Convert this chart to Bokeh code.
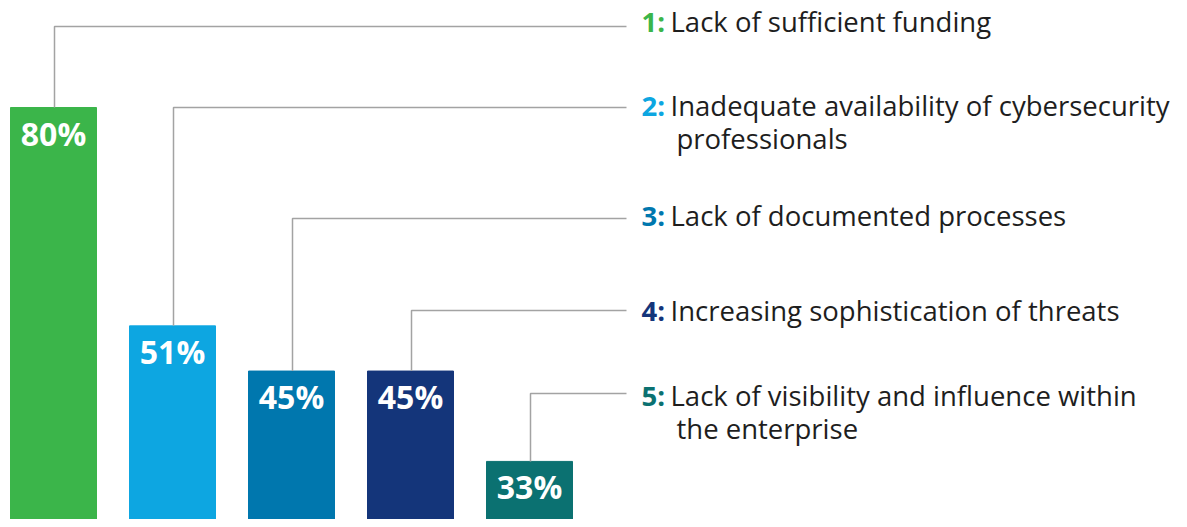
from bokeh.plotting import figure
from bokeh.models import Range1d, ColumnDataSource
from bokeh.core.properties import value
from bokeh.embed import file_html
from bokeh.resources import INLINE

# ---- data ----
ranks = ["1:", "2:", "3:", "4:", "5:"]
challenge_line1 = [
    "Lack of sufficient funding",
    "Inadequate availability of cybersecurity",
    "Lack of documented processes",
    "Increasing sophistication of threats",
    "Lack of visibility and influence within",
]
challenge_line2 = ["", "professionals", "", "", "the enterprise"]
percent = [80, 51, 45, 45, 33]
bar_labels = ["80%", "51%", "45%", "45%", "33%"]
colors = ["#3BB54A", "#0DA6E1", "#0077AE", "#14357A", "#0B7171"]

# ---- layout (figure pixels) ----
W, H = 1179, 519
PX_X = 119.0          # pixels per bar slot
X0 = 53.0             # pixel centre of first bar
PX_Y = 7.53           # pixels per percent
TOP_PX = 107.0        # pixel of the first bar's top
x_start = -X0 / PX_X
x_end = x_start + W / PX_X
y_end = percent[0] + TOP_PX / PX_Y
y_start = y_end - H / PX_Y


def xd(px):
    return x_start + px / PX_X


def yd(py):
    return y_end - py / PX_Y


TEXT_SHIFT = 12.5
leader_px = [26, 107, 218, 310, 393]
baseline_px = [33, 117, 227, 322, 407]
leader_end_px = 626
num_px = 641
text_px = 670
cont_px = 676
cont_dy = 33

p = figure(width=W, height=H, output_backend="svg", toolbar_location=None,
           x_range=Range1d(x_start, x_end), y_range=Range1d(y_start, y_end),
           min_border=0, min_border_left=0, min_border_right=0,
           min_border_top=0, min_border_bottom=0)
p.axis.visible = False
p.grid.visible = False
p.outline_line_color = None
p.background_fill_color = "white"
p.border_fill_color = "white"

idx = list(range(len(percent)))
src = ColumnDataSource(dict(x=idx, top=percent, color=colors, label=bar_labels,
                            ly=[v - (38 - TEXT_SHIFT) / PX_Y for v in percent]))
p.vbar(x="x", top="top", bottom=0, width=86 / PX_X, color="color", source=src)
p.text(x="x", y="ly", text="label", source=src, text_color="white",
       text_font=value("Open Sans"), text_font_style="bold", text_font_size="32px",
       text_align="center", text_baseline="alphabetic")

# leader lines
xs, ys = [], []
for i, v in enumerate(percent):
    xl = i + 1.0 / PX_X
    yl = yd(leader_px[i])
    xs.append([xl, xl, xd(leader_end_px)])
    ys.append([v, yl, yl])
p.multi_line(xs=xs, ys=ys, line_color="#A3A3A3", line_width=1.5)

# labels
lab = ColumnDataSource(dict(
    xn=[xd(num_px)] * 5, xt=[xd(text_px)] * 5, xc=[xd(cont_px)] * 5,
    y=[yd(v - TEXT_SHIFT) for v in baseline_px],
    y2=[yd(v - TEXT_SHIFT + cont_dy) for v in baseline_px],
    num=ranks, t1=challenge_line1, t2=challenge_line2, color=colors))
p.text(x="xn", y="y", text="num", source=lab, text_color="color",
       text_font=value("Open Sans"), text_font_style="bold", text_font_size="27.5px",
       text_baseline="alphabetic")
p.text(x="xt", y="y", text="t1", source=lab, text_color="#1E1E1E",
       text_font=value("Open Sans"), text_font_size="27.5px", text_baseline="alphabetic")
p.text(x="xc", y="y2", text="t2", source=lab, text_color="#1E1E1E",
       text_font=value("Open Sans"), text_font_size="27.5px", text_baseline="alphabetic")

open("out.html", "w").write(file_html(p, INLINE))
